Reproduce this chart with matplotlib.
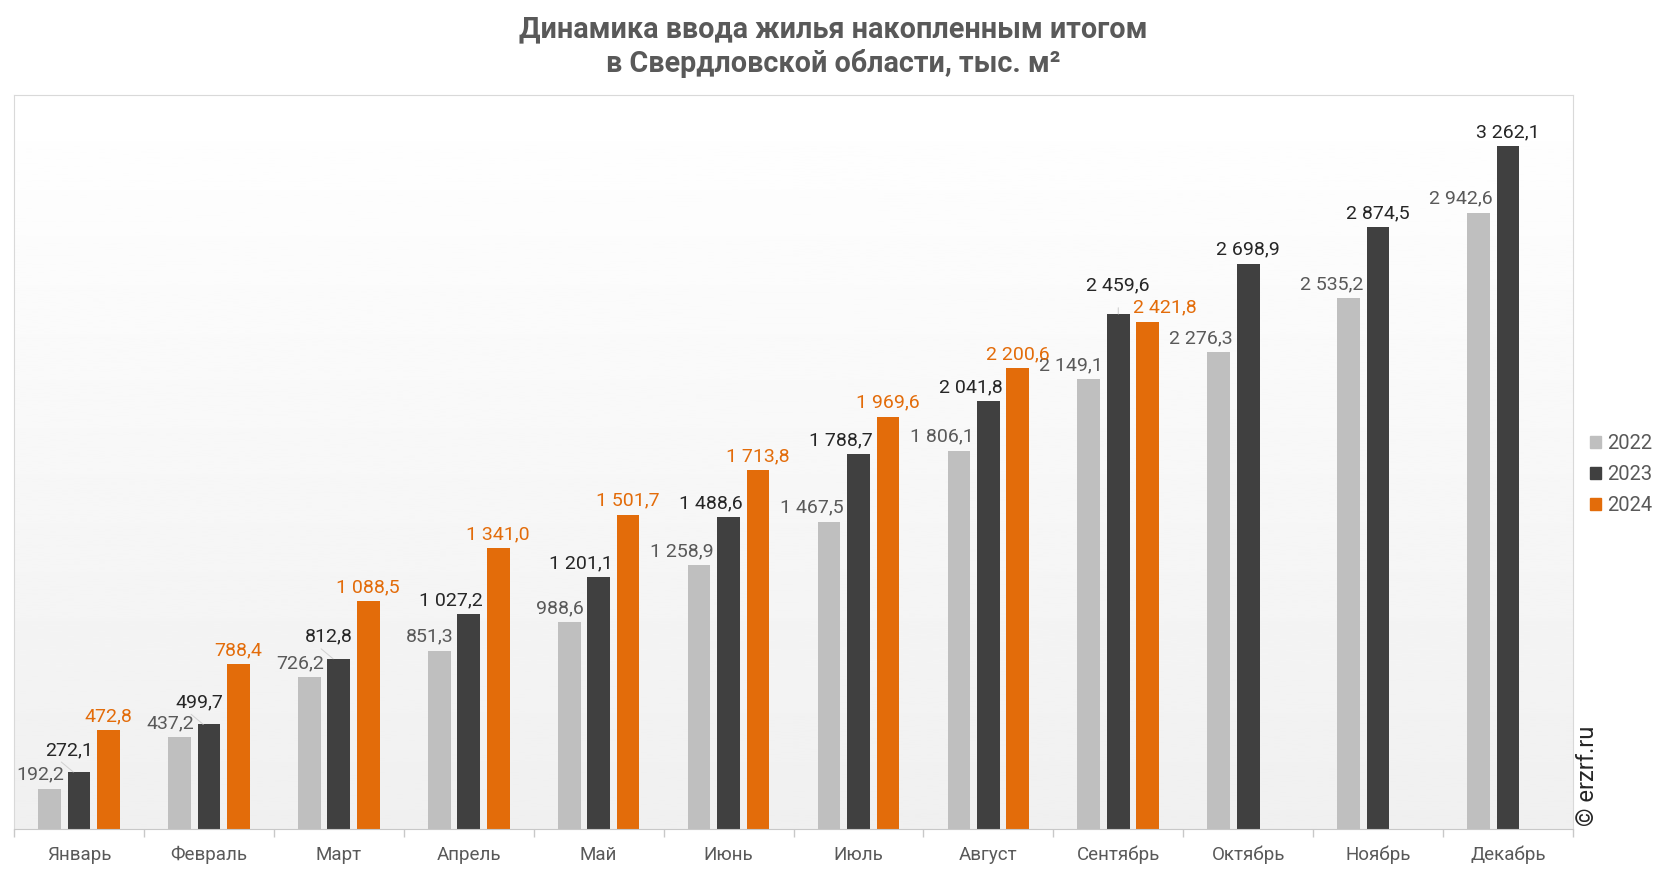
import numpy as np
import matplotlib
matplotlib.use('Agg')
import matplotlib.pyplot as plt
from matplotlib.patches import Patch

plt.rcParams['font.family'] = ['Roboto', 'DejaVu Sans']

# Данные
months = ['Январь', 'Февраль', 'Март', 'Апрель', 'Май', 'Июнь', 'Июль',
          'Август', 'Сентябрь', 'Октябрь', 'Ноябрь', 'Декабрь']
y2022 = [192.2, 437.2, 726.2, 851.3, 988.6, 1258.9, 1467.5, 1806.1, 2149.1, 2276.3, 2535.2, 2942.6]
y2023 = [272.1, 499.7, 812.8, 1027.2, 1201.1, 1488.6, 1788.7, 2041.8, 2459.6, 2698.9, 2874.5, 3262.1]
y2024 = [472.8, 788.4, 1088.5, 1341.0, 1501.7, 1713.8, 1969.6, 2200.6, 2421.8]
years = ['2022', '2023', '2024']

c22, c23, c24 = '#bfbfbf', '#404040', '#e36c0a'
t22, t23 = '#595959', '#262626'


def fmt(v):
    s = f"{v:,.1f}"
    return s.replace(',', ' ').replace('.', ',')


fig = plt.figure(figsize=(16.66, 8.72), dpi=100)
ax = fig.add_axes([14 / 1666, 43 / 872, 1559 / 1666, 734 / 872])

# Фон с градиентом
grad = np.linspace(0.94, 1.0, 256).reshape(-1, 1)
ax.imshow(grad, extent=[0, 1, 0, 1], transform=ax.transAxes, cmap='gray',
          vmin=0, vmax=1, aspect='auto', origin='lower', zorder=0)

x = np.arange(len(months))
w = 0.175
d = 0.227

ax.bar(x - d, y2022, w, color=c22, zorder=2)
ax.bar(x, y2023, w, color=c23, zorder=2)
ax.bar(x[:len(y2024)] + d, y2024, w, color=c24, zorder=2)

ax.set_xlim(-0.5, 11.5)
ax.set_ylim(0, 3505)

fs = 14
leader = dict(arrowstyle='-', color='#d0d0d0', lw=0.8, shrinkA=8, shrinkB=0)

# Подписи 2022
for i, v in enumerate(y2022):
    ax.annotate(fmt(v), (x[i] - d + w / 2, v), xytext=(3, 14), textcoords='offset pixels',
                ha='right', va='center', fontsize=fs, color=t22, zorder=3)

# Подписи 2023
for i, v in enumerate(y2023):
    if i < len(y2024) and abs(y2024[i] - v) < 100:
        ax.annotate(fmt(v), (x[i], v), xytext=(0, 29), textcoords='offset pixels',
                    ha='center', va='center', fontsize=fs, color=t23, zorder=3,
                    arrowprops=leader)
    elif i < len(y2024) and v - y2022[i] < 120:
        ax.annotate(fmt(v), (x[i] + w / 2, v), xytext=(3, 22), textcoords='offset pixels',
                    ha='right', va='center', fontsize=fs, color=t23, zorder=3)
        ax.annotate('', (x[i] - w / 4, v), xytext=(-12, 10), textcoords='offset pixels',
                    arrowprops=dict(arrowstyle='-', color='#d0d0d0', lw=0.7,
                                    shrinkA=0, shrinkB=0), zorder=3)
    elif i < len(y2024):
        ax.annotate(fmt(v), (x[i] + w / 2, v), xytext=(3, 14), textcoords='offset pixels',
                    ha='right', va='center', fontsize=fs, color=t23, zorder=3)
    else:
        ax.annotate(fmt(v), (x[i], v), xytext=(0, 14), textcoords='offset pixels',
                    ha='center', va='center', fontsize=fs, color=t23, zorder=3)

# Подписи 2024
for i, v in enumerate(y2024):
    if abs(y2023[i] - v) < 100:
        ax.annotate(fmt(v), (x[i] + d - w / 2, v), xytext=(-3, 14), textcoords='offset pixels',
                    ha='left', va='center', fontsize=fs, color=c24, zorder=3)
    else:
        ax.annotate(fmt(v), (x[i] + d, v), xytext=(0, 14), textcoords='offset pixels',
                    ha='center', va='center', fontsize=fs, color=c24, zorder=3)

# Оси
for s in ['top', 'left', 'right']:
    ax.spines[s].set_color('#d9d9d9')
ax.spines['bottom'].set_color('#c8c8c8')
ax.set_yticks([])
ax.set_xticks(x)
ax.set_xticklabels(months, fontsize=13.5, color=t22)
ax.tick_params(axis='x', length=0, pad=12)
ax.set_xticks(np.arange(-0.5, 12, 1), minor=True)
ax.tick_params(axis='x', which='minor', length=6, color='#c8c8c8', width=1)

# Заголовок
fig.text(0.5, 1 - 29 / 872, 'Динамика ввода жилья накопленным итогом',
         ha='center', va='center', fontsize=20.7, fontweight='bold', color='#595959')
fig.text(0.5, 1 - 63 / 872, 'в Свердловской области, тыс. м²',
         ha='center', va='center', fontsize=20.7, fontweight='bold', color='#595959')

# Легенда
handles = [Patch(color=c) for c in (c22, c23, c24)]
fig.legend(handles, years, loc='upper left', bbox_to_anchor=(1590 / 1666, 1 - 434 / 872),
           frameon=False, fontsize=14.5, labelcolor=t22, handlelength=0.55, handleheight=0.55,
           handletextpad=0.3, labelspacing=0.6, borderaxespad=0, borderpad=0)

fig.text(1587 / 1666, 1 - 776 / 872, '© erzrf.ru', rotation=90, ha='center', va='center',
         fontsize=17, color='#262626')

fig.savefig('out.png', dpi=100)
